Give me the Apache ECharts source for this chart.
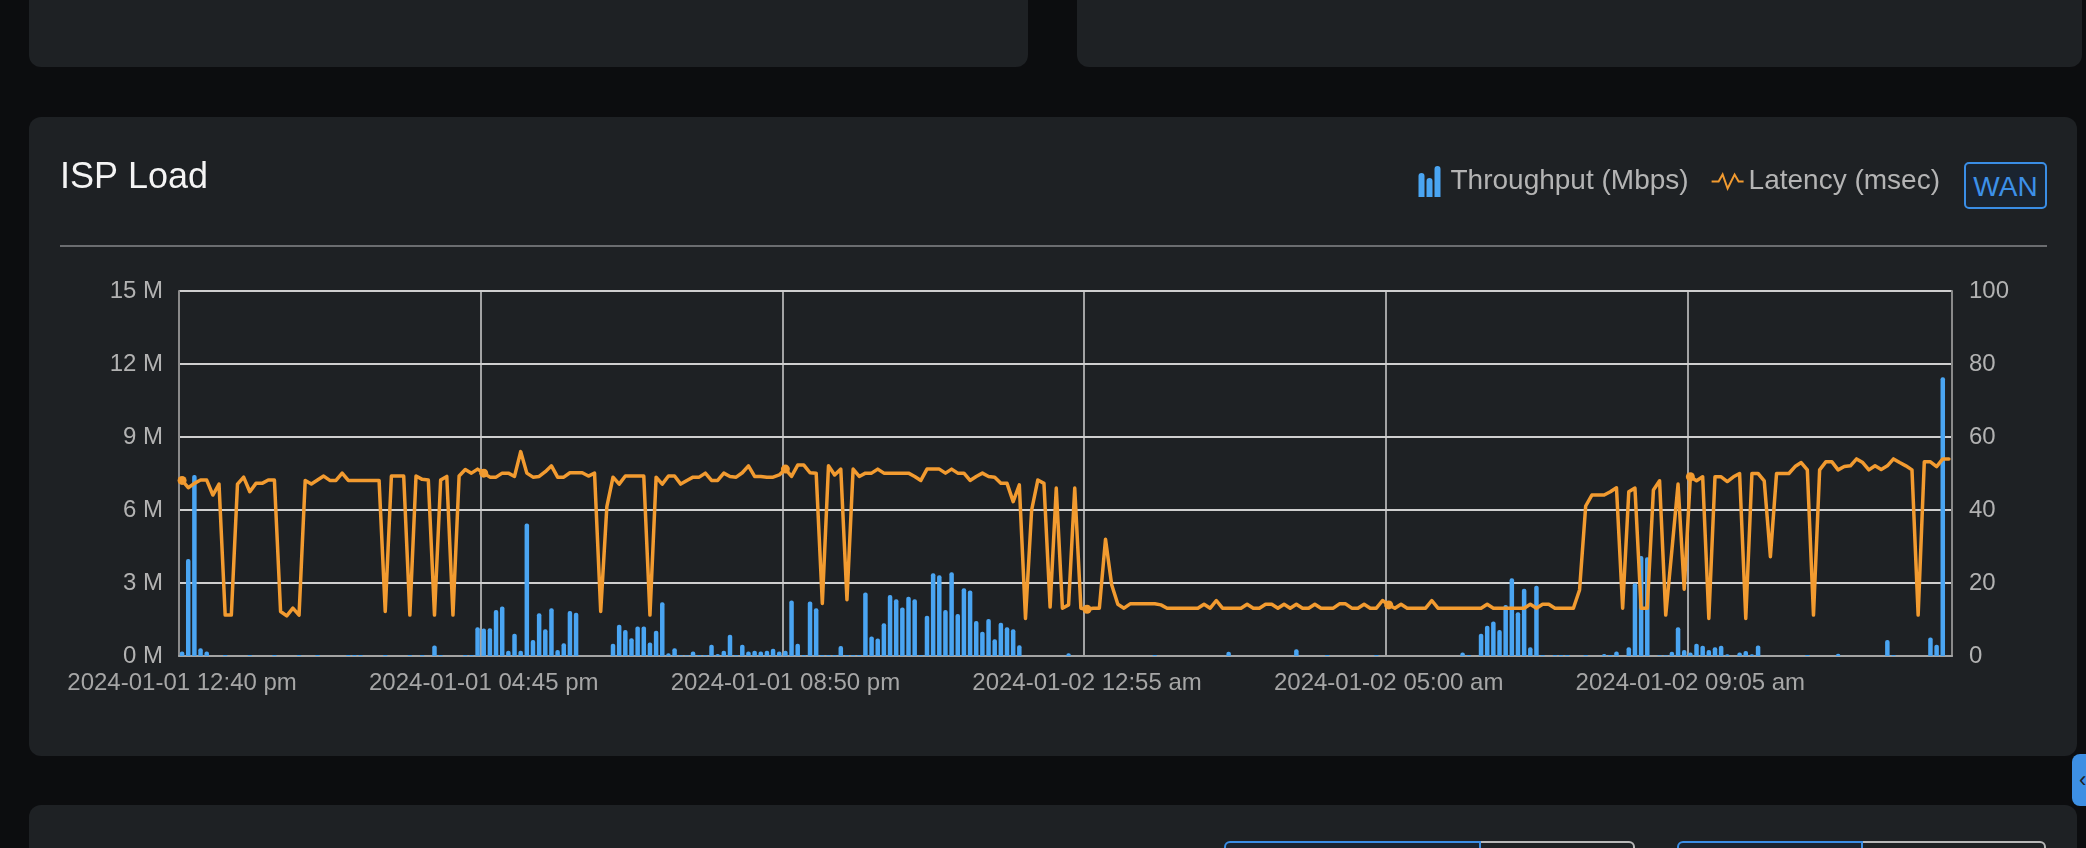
<!DOCTYPE html>
<html lang="en">
<head>
  <meta charset="utf-8">
  <title>ISP Load</title>
  <script src="https://cdn.jsdelivr.net/npm/echarts@6.0.0/dist/echarts.min.js"></script>
  <style>
    * {
      margin: 0;
      padding: 0;
      box-sizing: border-box;
    }
    html, body {
      width: 2086px;
      height: 848px;
      overflow: hidden;
      background: #0c0d0f;
      font-family: "Liberation Sans", Arial, Helvetica, sans-serif;
    }
    .card {
      position: absolute;
      background: #1e2124;
      border-radius: 12px;
    }
    .divider {
      position: absolute;
      left: 60px;
      top: 245px;
      width: 1987px;
      height: 2px;
      background: #6b6d70;
      z-index: 2;
    }
    .wan-btn {
      position: absolute;
      left: 1964px;
      top: 162px;
      width: 83px;
      height: 47px;
      border: 2px solid #3a8ee6;
      border-radius: 5px;
      background: #1a2430;
      color: #3d90e8;
      font-size: 28px;
      line-height: 45px;
      text-align: center;
      z-index: 2;
    }
    .seg {
      position: absolute;
      top: 841px;
      height: 40px;
      border: 2px solid #b8b8b8;
      z-index: 2;
    }
    .seg.on {
      border-color: #3a8ee6;
      background: #1a2430;
      border-radius: 6px 0 0 0;
    }
    .seg.off {
      border-left: none;
      border-radius: 0 6px 0 0;
    }
    .side-tab {
      position: absolute;
      left: 2072px;
      top: 754px;
      width: 24px;
      height: 52px;
      background: #3d8fe3;
      border-radius: 8px 0 0 8px;
      color: #1e2124;
      font-size: 22px;
      line-height: 52px;
      padding-left: 7px;
      z-index: 2;
    }
    #isp-load-chart {
      position: absolute;
      left: 0;
      top: 0;
      width: 2086px;
      height: 848px;
      z-index: 1;
    }
  </style>
</head>
<body>
  <div class="card" style="left:29px; top:-30px; width:999px; height:97px;"></div>
  <div class="card" style="left:1077px; top:-30px; width:1005px; height:97px;"></div>
  <div class="card" style="left:29px; top:117px; width:2048px; height:639px;"></div>
  <div class="card" style="left:29px; top:805px; width:2048px; height:100px;"></div>

  <div class="divider"></div>
  <div class="wan-btn">WAN</div>
  <div class="seg on" style="left:1224px; width:257px;"></div>
  <div class="seg off" style="left:1481px; width:154px;"></div>
  <div class="seg on" style="left:1677px; width:186px;"></div>
  <div class="seg off" style="left:1863px; width:183px;"></div>
  <div class="side-tab">&lsaquo;</div>

  <div id="isp-load-chart"></div>

  <script>
    // 5-minute samples, 2024-01-01 12:40 pm onwards
    var startDay = 1;
    var startMinute = 12 * 60 + 40;
    var stepMinutes = 5;
    var sampleCount = 288;

    // Throughput per sample, in M
    var throughputM = [
      0.18, 3.99, 7.44, 0.32, 0.18, 0, 0, 0.04, 0, 0, 0, 0.04,
      0, 0, 0, 0.04, 0, 0, 0, 0.04, 0, 0, 0.04, 0,
      0, 0, 0, 0.04, 0.04, 0.04, 0, 0, 0, 0.04, 0, 0,
      0, 0.04, 0, 0.04, 0, 0.43, 0.04, 0, 0, 0, 0.04, 0.04,
      1.18, 1.13, 1.14, 1.89, 2.03, 0.22, 0.91, 0.22, 5.45, 0.66, 1.76, 1.1,
      1.96, 0.25, 0.52, 1.85, 1.78, 0, 0, 0, 0, 0, 0.5, 1.28,
      1.07, 0.73, 1.21, 1.21, 0.55, 1.04, 2.21, 0.11, 0.32, 0.03, 0.03, 0.18,
      0.04, 0.04, 0.46, 0.08, 0.22, 0.87, 0.04, 0.46, 0.18, 0.22, 0.18, 0.22,
      0.3, 0.18, 0.22, 2.28, 0.5, 0.04, 2.24, 1.96, 0.04, 0.04, 0.04, 0.41,
      0.04, 0.04, 0.04, 2.61, 0.8, 0.72, 1.35, 2.51, 2.33, 1.99, 2.44, 2.33,
      0.04, 1.65, 3.4, 3.32, 1.89, 3.44, 1.73, 2.78, 2.69, 1.44, 1.0, 1.52,
      0.69, 1.37, 1.18, 1.1, 0.44, 0, 0, 0, 0, 0, 0, 0,
      0.11, 0, 0, 0, 0, 0, 0, 0, 0, 0, 0, 0,
      0, 0, 0.04, 0, 0, 0, 0, 0, 0, 0, 0, 0,
      0, 0, 0.17, 0, 0, 0, 0, 0, 0, 0, 0, 0,
      0, 0.28, 0, 0, 0, 0, 0.04, 0, 0, 0, 0, 0,
      0, 0, 0.04, 0, 0, 0, 0, 0, 0, 0, 0, 0,
      0, 0, 0, 0, 0.14, 0.04, 0, 0.91, 1.24, 1.42, 1.07, 2.1,
      3.2, 1.8, 2.76, 0.36, 2.89, 0.04, 0, 0.04, 0.04, 0.04, 0, 0,
      0.04, 0, 0, 0.08, 0.04, 0.18, 0, 0.36, 2.99, 4.11, 4.06, 0,
      0.03, 0.03, 0.17, 1.18, 0.25, 0.14, 0.5, 0.42, 0.25, 0.36, 0.42, 0.07,
      0, 0.14, 0.21, 0.07, 0.43, 0, 0, 0, 0, 0, 0, 0,
      0.04, 0, 0, 0, 0, 0.09, 0, 0, 0, 0, 0, 0,
      0, 0.66, 0.04, 0, 0, 0, 0, 0, 0.76, 0.46, 11.46, 0
    ];

    // Latency per sample, in msec
    var latencyMs = [
      48.1, 46.1, 47.3, 48.2, 48.2, 44.1, 47.1, 11.2, 11.2, 47.1, 49, 45,
      47.3, 47.3, 48.2, 48.2, 12.2, 11, 13.1, 11.2, 48.1, 47.1, 48.2, 49.3,
      48.1, 48.1, 50.1, 48.1, 48.1, 48.1, 48.1, 48.1, 48.1, 12.2, 49.3, 49.3,
      49.3, 11.2, 49.3, 48.4, 48.2, 11.2, 48.2, 49.2, 11.2, 49.3, 51.1, 50.1,
      51.2, 50.1, 49, 49, 50.1, 50.1, 49.2, 56, 50.1, 49, 49.2, 50.5,
      52.1, 49, 49, 50.2, 50.2, 50.2, 49.3, 50.1, 12.2, 40.9, 49, 47.1,
      49.3, 49.3, 49.3, 49.3, 11.2, 49, 47.1, 49.3, 49.3, 47.1, 48.1, 49,
      49, 50.1, 48.1, 48.1, 50.1, 49.2, 49, 50.2, 52.1, 49.2, 49.2, 49,
      49, 49.6, 51.2, 49.2, 52.3, 52.3, 50.2, 50.1, 14.4, 52.1, 49.6, 51.2,
      15.4, 51.2, 49.2, 50.1, 50.1, 51.2, 50.1, 50.1, 50.1, 50.1, 50.1, 49.2,
      48.1, 51.2, 51.2, 51.2, 50.1, 51.2, 50.1, 50.1, 48.1, 49.2, 50.1, 49.2,
      49, 47.3, 47.3, 42.3, 46.9, 10.3, 40, 48.2, 47.3, 13.4, 46, 13.1,
      14, 46, 13.1, 12.8, 13.1, 13.1, 32, 19.5, 14.2, 13.1, 14.3, 14.3,
      14.3, 14.3, 14.3, 14, 13.1, 13.1, 13.1, 13.1, 13.1, 13.1, 14.2, 13.1,
      15.2, 13.1, 13.1, 13.1, 13.1, 14.2, 13.1, 13.1, 14.2, 14.2, 13.1, 14.2,
      13.1, 14.2, 13.1, 13.1, 14.2, 13.1, 13.1, 13.1, 14.3, 14.3, 13.1, 13.1,
      14.2, 13.1, 13.1, 15.2, 14, 13.1, 14.2, 13.1, 13.1, 13.1, 13.1, 15.2,
      13.1, 13.1, 13.1, 13.1, 13.1, 13.1, 13.1, 13.1, 14.2, 13.1, 13.1, 13.1,
      13.1, 13.1, 13.1, 14.2, 13.1, 14.2, 14.2, 13.1, 13.1, 13.1, 13.1, 18.1,
      41.1, 44.1, 44.1, 44.1, 45, 46.1, 13.1, 45, 46, 13.1, 13.1, 45.5,
      48, 11.2, 29, 47.1, 18.3, 49.1, 48, 49.1, 10.3, 49.1, 49.1, 47.8,
      49.1, 50, 10.3, 50, 50, 48, 27.2, 50, 50, 50, 51.9, 53,
      51, 11.2, 51, 53.2, 53.2, 51, 51.9, 52.1, 54, 53, 51, 52.1,
      51.1, 52.1, 54, 53, 52.1, 51, 11.2, 53.2, 53.2, 51.9, 54, 54
    ];

    var throughputTicks = [0, 3, 6, 9, 12, 15];
    var latencyTicks = [0, 20, 40, 60, 80, 100];
    var labelEvery = 49;

    function pad(n) {
      return n < 10 ? '0' + n : '' + n;
    }

    var categories = [];
    for (var k = 0; k < sampleCount; k++) {
      var m = startMinute + k * stepMinutes;
      var day = startDay + Math.floor(m / 1440);
      var mm = m % 1440;
      var h24 = Math.floor(mm / 60);
      var h12 = h24 % 12 === 0 ? 12 : h24 % 12;
      categories.push('2024-01-' + pad(day) + ' ' + pad(h12) + ':' + pad(mm % 60) +
        (h24 < 12 ? ' am' : ' pm'));
    }

    var BLUE = '#4aa5f2';
    var ORANGE = '#f29b30';
    var FONT = '"Liberation Sans", Arial, Helvetica, sans-serif';

    var barsIcon = 'path://M0,31 L0,10 Q0,7 3,7 Q6,7 6,10 L6,31 Z M8,31 L8,15 Q8,12 11,12 Q14,12 14,15 L14,31 Z M16,31 L16,3 Q16,0 19,0 Q22,0 22,3 L22,31 Z';
    var zigzagIcon = 'path://M0,8 L7,8 L11,1 L16,15 L23,1 L27,8 L32,8';

    var dom = document.getElementById('isp-load-chart');
    var myChart = echarts.init(dom, null, { renderer: 'canvas' });

    var option = {
      animation: false,
      backgroundColor: 'transparent',
      textStyle: { fontFamily: FONT },
      title: {
        text: 'ISP Load',
        left: 60,
        top: 160,
        padding: 0,
        textStyle: {
          color: '#f4f4f4',
          fontSize: 36,
          fontWeight: 'normal',
          fontFamily: FONT
        }
      },
      legend: {
        right: 146,
        top: 166,
        padding: 0,
        itemWidth: 32,
        itemHeight: 31,
        itemGap: 22,
        selectedMode: false,
        textStyle: { color: '#b4b4b4', fontSize: 28, fontFamily: FONT },
        data: [
          { name: 'Throughput (Mbps)', icon: barsIcon, itemStyle: { color: BLUE } },
          {
            name: 'Latency (msec)',
            icon: zigzagIcon,
            itemStyle: { color: 'rgba(0,0,0,0)', borderColor: ORANGE, borderWidth: 2 }
          }
        ]
      },
      grid: {
        left: 179,
        right: 134,
        top: 291,
        bottom: 192,
        containLabel: false,
        outerBoundsMode: 'none'
      },
      xAxis: {
        type: 'category',
        data: categories,
        boundaryGap: true,
        axisLine: { show: true, lineStyle: { color: '#a4a4a4', width: 2 } },
        axisTick: { show: false, interval: labelEvery - 1 },
        axisLabel: {
          interval: labelEvery - 1,
          color: '#a6a6a6',
          fontSize: 24,
          margin: 15,
          fontFamily: FONT
        },
        splitLine: {
          show: true,
          interval: labelEvery - 1,
          lineStyle: { color: '#cfcfcf', width: 1.5 }
        }
      },
      yAxis: [
        {
          type: 'value',
          min: throughputTicks[0],
          max: throughputTicks[throughputTicks.length - 1],
          interval: throughputTicks[1] - throughputTicks[0],
          axisLine: { show: true, lineStyle: { color: '#8a8a8a', width: 2 } },
          axisTick: { show: false },
          axisLabel: {
            color: '#b2b2b2',
            fontSize: 24,
            margin: 16,
            fontFamily: FONT,
            formatter: function (v) { return v + ' M'; }
          },
          splitLine: { show: true, lineStyle: { color: '#cfcfcf', width: 2 } }
        },
        {
          type: 'value',
          position: 'right',
          min: latencyTicks[0],
          max: latencyTicks[latencyTicks.length - 1],
          interval: latencyTicks[1] - latencyTicks[0],
          axisLine: { show: true, lineStyle: { color: '#8a8a8a', width: 2 } },
          axisTick: { show: false },
          axisLabel: { color: '#b2b2b2', fontSize: 24, margin: 17, fontFamily: FONT },
          splitLine: { show: false }
        }
      ],
      series: [
        {
          name: 'Throughput (Mbps)',
          type: 'bar',
          data: throughputM,
          barWidth: 4.5,
          itemStyle: { color: BLUE, borderRadius: [2, 2, 0, 0] }
        },
        {
          name: 'Latency (msec)',
          type: 'line',
          yAxisIndex: 1,
          data: latencyMs,
          symbol: 'circle',
          symbolSize: 9,
          showAllSymbol: 'auto',
          itemStyle: { color: ORANGE },
          lineStyle: { color: ORANGE, width: 3.5, join: 'round', cap: 'round' },
          z: 3
        }
      ]
    };

    myChart.setOption(option);
    window.addEventListener('resize', myChart.resize);
  </script>
</body>
</html>
